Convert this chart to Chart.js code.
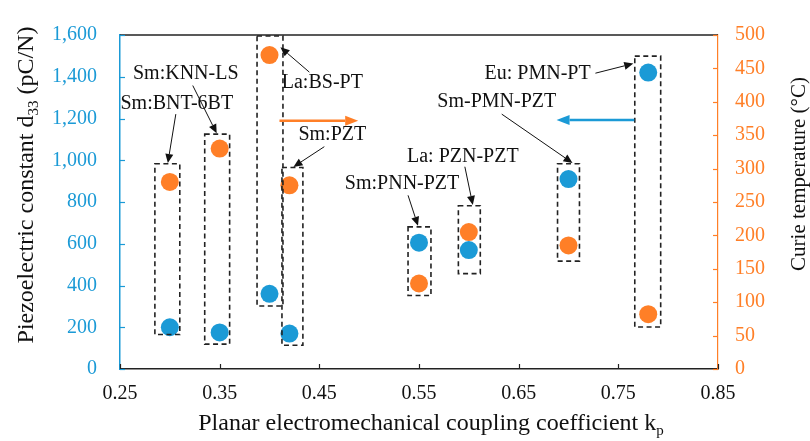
<!DOCTYPE html>
<html>
<head>
<meta charset="utf-8">
<script src="https://cdn.jsdelivr.net/npm/chart.js@4.4.0/dist/chart.umd.min.js"></script>
<style>
  html, body { margin: 0; padding: 0; background: #fff; }
  #wrap { width: 810px; height: 441px; position: relative; }
</style>
</head>
<body>
<div id="wrap"><canvas id="chart"></canvas></div>
<script>
// Data
const materials = ['Sm:BNT-6BT', 'Sm:KNN-LS', 'La:BS-PT', 'Sm:PZT', 'Sm:PNN-PZT', 'La: PZN-PZT', 'Sm-PMN-PZT', 'Eu: PMN-PT'];
const kp = [0.30, 0.35, 0.40, 0.42, 0.55, 0.60, 0.70, 0.78];
const d33 = [200, 175, 360, 170, 605, 570, 910, 1420];
const curieT = [280, 330, 470, 275, 128, 205, 185, 82];

const xTicks = [0.25, 0.35, 0.45, 0.55, 0.65, 0.75, 0.85];
const yTicks = [0, 200, 400, 600, 800, 1000, 1200, 1400, 1600];
const y2Ticks = [0, 50, 100, 150, 200, 250, 300, 350, 400, 450, 500];

const BLUE = '#1B9AD6';
const ORANGE = '#FF7F27';
const SERIF = '"Liberation Serif", "Times New Roman", serif';

// Dashed group boxes (kp centre, half width, d33 bottom/top)
const boxes = [
    { x: 0.2975, w: 0.0125, lo: 165, hi: 983 },
    { x: 0.3475, w: 0.0125, lo: 119, hi: 1125 },
    { x: 0.4005, w: 0.013, lo: 302, hi: 1595 },
    { x: 0.423, w: 0.0105, lo: 114, hi: 965 },
    { x: 0.5505, w: 0.0115, lo: 352, hi: 681 },
    { x: 0.6005, w: 0.011, lo: 457, hi: 782 },
    { x: 0.700, w: 0.011, lo: 517, hi: 983 },
    { x: 0.7795, w: 0.013, lo: 201, hi: 1499 }
];

// Callout labels and their arrows, in (kp, d33) units
const callouts = [
    { text: materials[0], at: [0.307, 1271], from: [0.306, 1221], to: [0.298, 987] },
    { text: materials[1], at: [0.316, 1413], from: [0.323, 1358], to: [0.347, 1129] },
    { text: materials[2], at: [0.453, 1371], from: [0.440, 1422], to: [0.411, 1541] },
    { text: materials[3], at: [0.463, 1120], from: [0.455, 1065], to: [0.424, 968] },
    { text: materials[4], at: [0.533, 887], from: [0.539, 832], to: [0.549, 686] },
    { text: materials[5], at: [0.594, 1015], from: [0.596, 969], to: [0.604, 786] },
    { text: materials[6], at: [0.628, 1280], from: [0.633, 1221], to: [0.704, 987] },
    { text: materials[7], at: [0.669, 1413], from: [0.727, 1417], to: [0.765, 1463] }
];

function drawArrow(ctx, x1, y1, x2, y2, color, lw, headLen, headHalf) {
    const ang = Math.atan2(y2 - y1, x2 - x1);
    const bx = x2 - headLen * Math.cos(ang);
    const by = y2 - headLen * Math.sin(ang);
    ctx.save();
    ctx.strokeStyle = color;
    ctx.fillStyle = color;
    ctx.lineWidth = lw;
    ctx.setLineDash([]);
    ctx.beginPath();
    ctx.moveTo(x1, y1);
    ctx.lineTo(bx, by);
    ctx.stroke();
    ctx.beginPath();
    ctx.moveTo(x2, y2);
    ctx.lineTo(bx + headHalf * Math.sin(ang), by - headHalf * Math.cos(ang));
    ctx.lineTo(bx - headHalf * Math.sin(ang), by + headHalf * Math.cos(ang));
    ctx.closePath();
    ctx.fill();
    ctx.restore();
}

const decorPlugin = {
    id: 'decor',
    afterDatasetsDraw(chart) {
        const ctx = chart.ctx;
        const sx = chart.scales.x, sy = chart.scales.y, sy2 = chart.scales.y2;
        const area = chart.chartArea;

        // top frame line
        ctx.save();
        ctx.strokeStyle = '#222';
        ctx.lineWidth = 1.5;
        ctx.beginPath();
        ctx.moveTo(area.left, area.top);
        ctx.lineTo(area.right, area.top);
        ctx.stroke();

        // inward tick marks
        ctx.lineWidth = 1.2;
        ctx.strokeStyle = BLUE;
        yTicks.forEach(v => {
            const y = Math.round(sy.getPixelForValue(v)) + 0.5;
            ctx.beginPath(); ctx.moveTo(area.left, y); ctx.lineTo(area.left + 5, y); ctx.stroke();
        });
        ctx.strokeStyle = ORANGE;
        y2Ticks.forEach(v => {
            const y = Math.round(sy2.getPixelForValue(v)) + 0.5;
            ctx.beginPath(); ctx.moveTo(area.right, y); ctx.lineTo(area.right - 5, y); ctx.stroke();
        });
        ctx.strokeStyle = '#222';
        xTicks.forEach(v => {
            const x = Math.round(sx.getPixelForValue(v)) + 0.5;
            ctx.beginPath(); ctx.moveTo(x, area.bottom); ctx.lineTo(x, area.bottom - 5); ctx.stroke();
        });
        ctx.restore();

        // dashed boxes
        ctx.save();
        ctx.strokeStyle = '#222';
        ctx.lineWidth = 1.6;
        ctx.setLineDash([5, 3.5]);
        boxes.forEach(b => {
            const l = sx.getPixelForValue(b.x - b.w);
            const r = sx.getPixelForValue(b.x + b.w);
            const t = sy.getPixelForValue(b.hi);
            const btm = sy.getPixelForValue(b.lo);
            ctx.strokeRect(l, t, r - l, btm - t);
        });
        ctx.restore();

        // callouts
        ctx.save();
        ctx.font = '20px ' + SERIF;
        ctx.fillStyle = '#111';
        ctx.textAlign = 'center';
        ctx.textBaseline = 'middle';
        callouts.forEach(c => {
            ctx.fillText(c.text, sx.getPixelForValue(c.at[0]), sy.getPixelForValue(c.at[1]));
            drawArrow(ctx,
                sx.getPixelForValue(c.from[0]), sy.getPixelForValue(c.from[1]),
                sx.getPixelForValue(c.to[0]), sy.getPixelForValue(c.to[1]),
                '#111', 1, 9, 4);
        });
        ctx.restore();

        // axis direction arrows
        drawArrow(ctx, sx.getPixelForValue(0.410), sy.getPixelForValue(1189),
            sx.getPixelForValue(0.489), sy.getPixelForValue(1189), ORANGE, 2.5, 13, 5);
        drawArrow(ctx, sx.getPixelForValue(0.766), sy.getPixelForValue(1193),
            sx.getPixelForValue(0.688), sy.getPixelForValue(1193), BLUE, 2.5, 13, 5);
    },
    afterDraw(chart) {
        const ctx = chart.ctx;
        ctx.save();
        ctx.fillStyle = '#111';
        ctx.textBaseline = 'middle';

        // x title with subscript p
        const main = 'Planar electromechanical coupling coefficient k';
        ctx.font = '15px ' + SERIF;
        const subW = ctx.measureText('p').width;
        ctx.font = '24px ' + SERIF;
        const mainW = ctx.measureText(main).width;
        const x0 = 431 - (mainW + subW) / 2;
        ctx.textAlign = 'left';
        ctx.fillText(main, x0, 424);
        ctx.font = '15px ' + SERIF;
        ctx.fillText('p', x0 + mainW, 431);

        // left title with subscript 33
        ctx.save();
        ctx.translate(27, 185);
        ctx.rotate(-Math.PI / 2);
        const a = 'Piezoelectric constant d', s = '33', b = ' (pC/N)';
        ctx.font = '24px ' + SERIF;
        const aw = ctx.measureText(a).width, bw = ctx.measureText(b).width;
        ctx.font = '15px ' + SERIF;
        const sw = ctx.measureText(s).width;
        const p = -(aw + sw + bw) / 2;
        ctx.font = '24px ' + SERIF;
        ctx.fillText(a, p, 0);
        ctx.font = '15px ' + SERIF;
        ctx.fillText(s, p + aw, 7);
        ctx.font = '24px ' + SERIF;
        ctx.fillText(b, p + aw + sw, 0);
        ctx.restore();

        // right title
        ctx.save();
        ctx.translate(799, 174);
        ctx.rotate(-Math.PI / 2);
        ctx.textAlign = 'center';
        ctx.font = '21px ' + SERIF;
        ctx.fillText('Curie temperature (\u00B0C)', 0, 0);
        ctx.restore();

        ctx.restore();
    }
};

const ctx = document.getElementById('chart').getContext('2d');
const chart = new Chart(ctx, {
    type: 'scatter',
    data: {
        datasets: [
            {
                label: 'Piezoelectric constant d33',
                data: kp.map((x, i) => ({ x: x, y: d33[i] })),
                yAxisID: 'y',
                backgroundColor: BLUE,
                borderColor: BLUE,
                pointRadius: 9,
                pointHoverRadius: 9,
                borderWidth: 0
            },
            {
                label: 'Curie temperature',
                data: kp.map((x, i) => ({ x: x, y: curieT[i] })),
                yAxisID: 'y2',
                backgroundColor: ORANGE,
                borderColor: ORANGE,
                pointRadius: 9,
                pointHoverRadius: 9,
                borderWidth: 0
            }
        ]
    },
    options: {
        responsive: true,
        maintainAspectRatio: false,
        animation: false,
        layout: { padding: { top: 18, left: 0, right: 0, bottom: 0 } },
        plugins: {
            legend: { display: false },
            tooltip: { enabled: false }
        },
        scales: {
            x: {
                type: 'linear',
                min: 0.25,
                max: 0.85,
                afterBuildTicks: axis => { axis.ticks = xTicks.map(v => ({ value: v })); },
                afterFit: axis => { axis.height = 72; },
                grid: { display: false, drawTicks: false },
                border: { display: true, color: '#222', width: 1.5 },
                ticks: {
                    color: '#111',
                    padding: 13,
                    maxRotation: 0,
                    font: { family: SERIF, size: 20 },
                    callback: v => v.toFixed(2)
                }
            },
            y: {
                type: 'linear',
                position: 'left',
                min: 0,
                max: 1600,
                afterBuildTicks: axis => { axis.ticks = yTicks.map(v => ({ value: v })); },
                afterFit: axis => { axis.width = 120; },
                grid: { display: false, drawTicks: false },
                border: { display: true, color: BLUE, width: 1.5 },
                ticks: {
                    color: BLUE,
                    padding: 23,
                    font: { family: SERIF, size: 20 },
                    callback: v => v.toLocaleString('en-US')
                }
            },
            y2: {
                type: 'linear',
                position: 'right',
                min: 0,
                max: 500,
                afterBuildTicks: axis => { axis.ticks = y2Ticks.map(v => ({ value: v })); },
                afterFit: axis => { axis.width = 92; },
                grid: { display: false, drawTicks: false },
                border: { display: true, color: ORANGE, width: 1.2 },
                ticks: {
                    color: ORANGE,
                    padding: 17,
                    font: { family: SERIF, size: 20 }
                }
            }
        }
    },
    plugins: [decorPlugin]
});
</script>
</body>
</html>
